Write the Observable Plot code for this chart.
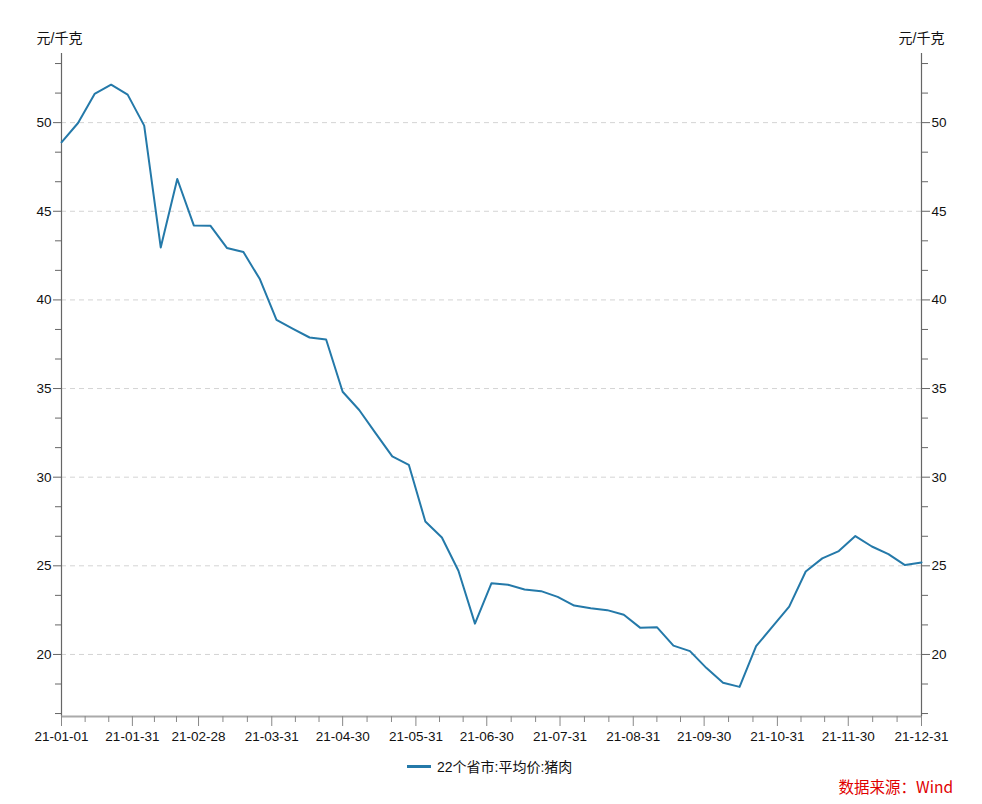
<!DOCTYPE html>
<html>
<head>
<meta charset="utf-8">
<script src="https://cdn.jsdelivr.net/npm/d3@7"></script>
<script src="https://cdn.jsdelivr.net/npm/@observablehq/plot@0.6"></script>
<style>
  html, body { margin: 0; padding: 0; background: #fff; }
  body { width: 982px; height: 804px; position: relative; overflow: hidden;
         font-family: "Liberation Sans", Arial, "Noto Sans CJK SC", sans-serif; }
  #legend { position: absolute; left: 407px; top: 756px; font-size: 14px; color: #111;
            display: flex; align-items: center; white-space: nowrap; }
  #legend .sw { display: inline-block; width: 24px; height: 3px; background: #2479a9; margin-right: 6px; }
  #source { position: absolute; right: 29px; top: 775px; font-size: 15.5px; color: #e00000;
            font-family: "Noto Sans CJK SC", "Liberation Sans", sans-serif; white-space: nowrap; }
</style>
</head>
<body>
<div id="chart"></div>
<div id="legend"><span class="sw"></span><span id="legendText"></span></div>
<div id="source"></div>
<script>
// ---- data ----
const startDate = "2021-01-01"; // weekly observations
const seriesName = "22个省市:平均价:猪肉";
const unitLabel = "元/千克";
const sourceText = "数据来源：Wind";
const prices = [
  48.89, 49.98, 51.62, 52.14, 51.58, 49.83, 42.96, 46.82, 44.20, 44.19,
  42.93, 42.70, 41.16, 38.88, 38.37, 37.88, 37.77, 34.82, 33.79, 32.47,
  31.17, 30.70, 27.50, 26.60, 24.72, 21.74, 24.02, 23.93, 23.66, 23.57,
  23.25, 22.76, 22.61, 22.50, 22.24, 21.50, 21.54, 20.50, 20.19, 19.23,
  18.40, 18.17, 20.47, 21.58, 22.70, 24.68, 25.42, 25.83, 26.68, 26.09,
  25.66, 25.04, 25.19
];
const xTickLabels = ["21-01-01","21-01-31","21-02-28","21-03-31","21-04-30","21-05-31",
                     "21-06-30","21-07-31","21-08-31","21-09-30","21-10-31","21-11-30","21-12-31"];
const yTicks = [20, 25, 30, 35, 40, 45, 50];
const yDomain = [16.5, 53.9];

// ---- build ----
const parse = d3.utcParse("%y-%m-%d");
const fmt = d3.utcFormat("%y-%m-%d");
const t0 = d3.utcParse("%Y-%m-%d")(startDate);
const data = prices.map((v, i) => ({date: d3.utcDay.offset(t0, 7 * i), value: v}));
const xMajor = xTickLabels.map(parse);
const xMinor = [];
for (let i = 0; i < xMajor.length - 1; i++) {
  const a = +xMajor[i], b = +xMajor[i + 1];
  xMinor.push(new Date(a + (b - a) / 3), new Date(a + 2 * (b - a) / 3));
}
const yMinor = [];
for (let k = 10; k <= 32; k++) { const v = k * 5 / 3; if (k % 3 !== 0 && v > yDomain[0] && v < yDomain[1]) yMinor.push(v); }

const lineColor = "#2479a9";
const chart = Plot.plot({
  width: 982,
  height: 752,
  marginLeft: 61,
  marginRight: 61,
  marginTop: 53,
  marginBottom: 36,
  style: {fontFamily: "'Liberation Sans', Arial, 'Noto Sans CJK SC', sans-serif", fontSize: "13.5px", color: "#111", background: "#fff"},
  x: {type: "utc", domain: [xMajor[0], xMajor[xMajor.length - 1]]},
  y: {domain: yDomain},
  marks: [
    Plot.gridY(yTicks, {stroke: "#d4d4d4", strokeOpacity: 1, strokeDasharray: "5,4"}),
    Plot.ruleX([xMajor[0]], {stroke: "#666", strokeWidth: 1.2}),
    Plot.ruleX([xMajor[xMajor.length - 1]], {stroke: "#666", strokeWidth: 1.2}),
    Plot.ruleY([yDomain[0]], {stroke: "#aaa", strokeWidth: 2}),
    Plot.axisY(yTicks, {anchor: "left", tickSize: 8, tickPadding: 2, label: null, stroke: "#666", fill: "#111"}),
    Plot.axisY(yMinor, {anchor: "left", tickSize: 6, label: null, text: null, stroke: "#666"}),
    Plot.axisY(yTicks, {anchor: "right", tickSize: 8, tickPadding: 2, label: null, stroke: "#666", fill: "#111"}),
    Plot.axisY(yMinor, {anchor: "right", tickSize: 6, label: null, text: null, stroke: "#666"}),
    Plot.axisX(xMajor, {tickSize: 10, tickPadding: 5, tickFormat: fmt, label: null, stroke: "#888", fill: "#111"}),
    Plot.axisX(xMinor, {tickSize: 6, text: null, label: null, stroke: "#888"}),
    Plot.lineY(data, {x: "date", y: "value", stroke: lineColor, strokeWidth: 2}),
    Plot.text([unitLabel], {frameAnchor: "top-left", dy: -20, dx: -2, textAnchor: "middle", fontSize: 14, fill: "#111"}),
    Plot.text([unitLabel], {frameAnchor: "top-right", dy: -20, dx: 0, textAnchor: "middle", fontSize: 14, fill: "#111"})
  ]
});
document.getElementById("chart").appendChild(chart);
document.getElementById("legendText").textContent = seriesName;
document.getElementById("source").textContent = sourceText;
</script>
</body>
</html>
